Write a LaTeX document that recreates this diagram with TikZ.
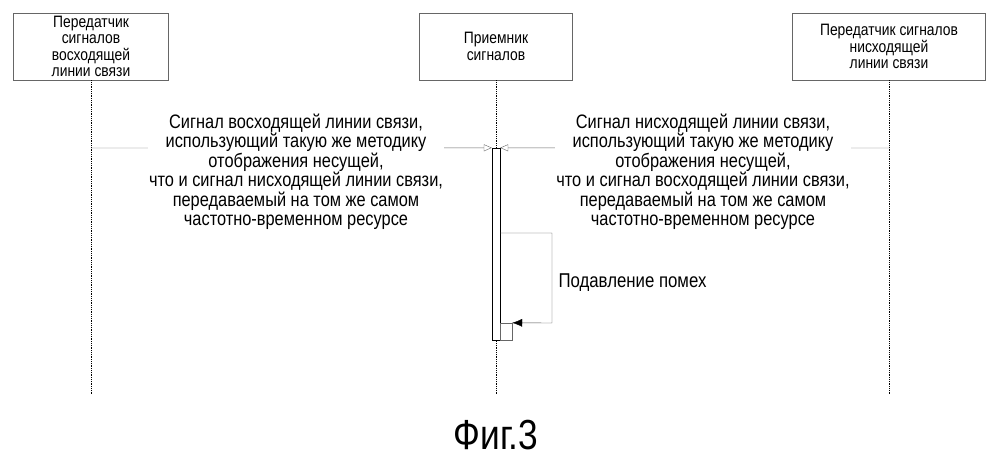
\documentclass[tikz,border=0pt]{standalone}
\usepackage{fontspec}
\setmainfont[FakeStretch=0.84]{Liberation Sans}
\usetikzlibrary{arrows.meta}
\tikzset{
  actor/.style={draw=gray!80!black, fill=white, align=center, minimum height=67pt, inner sep=0pt, font=\fontsize{16.5}{16.5}\selectfont},
  life/.style={densely dotted, thick},
  msg/.style={gray!80!black},
  note/.style={fill=white, align=center, inner sep=1pt, font=\fontsize{19.5}{19.5}\selectfont},
}
\begin{document}
\begin{tikzpicture}[x=1pt,y=-1pt]
  \useasboundingbox (0,0) rectangle (999,466);
  % participants
  \node[actor, minimum width=155pt] (tx) at (91,46.5) {Передатчик\\сигналов\\восходящей\\линии связи};
  \node[actor, minimum width=153pt] (rx) at (496,46.5) {Приемник\\сигналов};
  \node[actor, minimum width=193pt] (dl) at (889,46.5) {Передатчик сигналов\\нисходящей\\линии связи};
  % lifelines
  \coordinate (txe) at (91,395);
  \coordinate (rxe) at (496,395);
  \coordinate (dle) at (889,395);
  \draw[life] (tx.south) -- (txe);
  \draw[life] (rx.south) -- (rxe);
  \draw[life] (dl.south) -- (dle);
  % activation
  \node[draw, fill=white, minimum width=8pt, minimum height=192pt, inner sep=0pt] (act) at (496,244) {};
  % messages
  \coordinate (ml) at (91,148);
  \coordinate (mr) at (889,148);
  \draw[msg, -{Triangle[open,length=8pt,width=7pt]}] (ml) -- (act.north west);
  \draw[msg, -{Triangle[open,length=8pt,width=7pt]}] (mr) -- (act.north east);
  \node[note] (up) at (296,172) {Сигнал восходящей линии связи,\\использующий такую же методику\\отображения несущей,\\что и сигнал нисходящей линии связи,\\передаваемый на том же самом\\частотно-временном ресурсе};
  \node[note] (down) at (703,172) {Сигнал нисходящей линии связи,\\использующий такую же методику\\отображения несущей,\\что и сигнал восходящей линии связи,\\передаваемый на том же самом\\частотно-временном ресурсе};
  % self message
  \node[draw, gray!80!black, minimum width=12pt, minimum height=17pt, inner sep=0pt] (sup) at (506,331.5) {};
  \coordinate (s1) at (500,233);
  \draw[gray!60!black, -{Latex[length=10pt,width=8pt,black]}] (s1) -- (552,233) -- (552,323) -- (sup.north east);
  \node[anchor=west, font=\fontsize{20}{20}\selectfont] (lab) at (555,283) {Подавление помех};
  % caption
  \node[font=\fontsize{42}{42}\selectfont] (fig) at (496,435) {Фиг.3};
\end{tikzpicture}
\end{document}
